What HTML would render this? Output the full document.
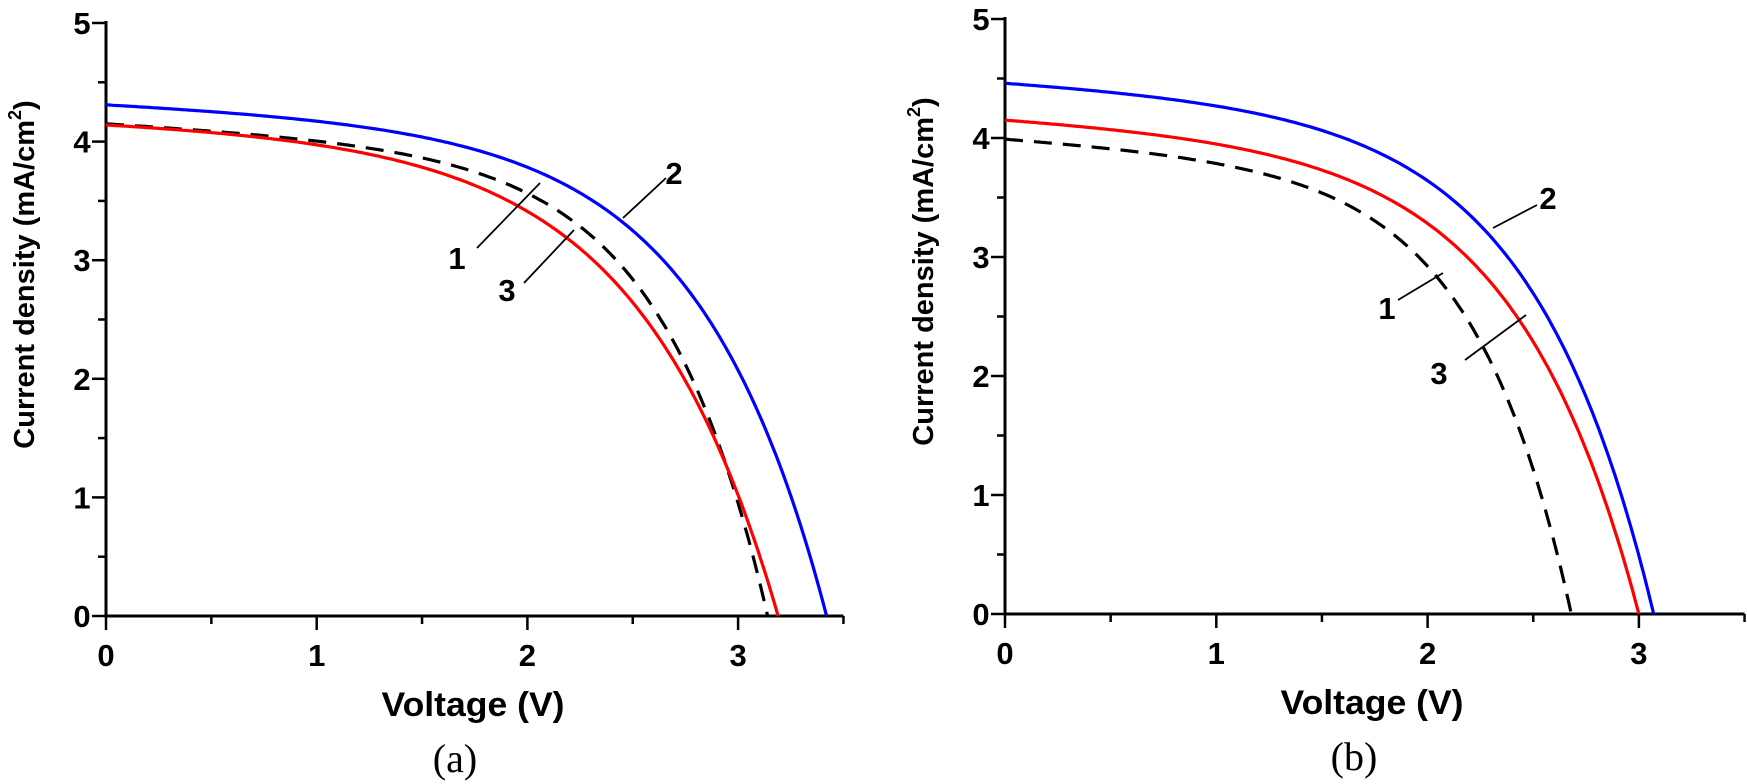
<!DOCTYPE html>
<html><head><meta charset="utf-8"><style>
html,body{margin:0;padding:0;background:#fff;}
svg{display:block;}
.t{font-family:"Liberation Sans",Arial,sans-serif;font-weight:bold;font-size:31px;fill:#000;}
.c{font-family:"Liberation Serif",serif;font-size:40px;fill:#000;}
</style></head><body>
<svg id="s" width="1747" height="784" xmlns="http://www.w3.org/2000/svg"></svg>
<script>
const s=document.getElementById('s');let h='';
function panel(x0,y0,y5,ux,sets,labs,cap){
 const uy=(y0-y5)/5, X=v=>x0+v*ux, Y=j=>y0-j*uy, xe=X(3.5);
 h+=`<line x1="${x0}" y1="${y5-2}" x2="${x0}" y2="${y0+1.5}" stroke="#000" stroke-width="3"/>`;
 h+=`<line x1="${x0-1.5}" y1="${y0}" x2="${xe}" y2="${y0}" stroke="#000" stroke-width="3"/>`;
 for(let k=0;k<=10;k++){const j=k/2,L=k%2?8:14;h+=`<line x1="${x0-L}" y1="${Y(j)}" x2="${x0}" y2="${Y(j)}" stroke="#000" stroke-width="2.5"/>`;
  if(k%2==0)h+=`<text class="t" x="${x0-24}" y="${Y(j)+11}" text-anchor="middle">${j}</text>`;}
 for(let k=0;k<=7;k++){const v=k/2,L=k%2?8:14;h+=`<line x1="${X(v)}" y1="${y0}" x2="${X(v)}" y2="${y0+L}" stroke="#000" stroke-width="2.5"/>`;
  if(k%2==0)h+=`<text class="t" x="${X(v)}" y="${y0+50}" text-anchor="middle">${v}</text>`;}
 h+=`<text class="t" transform="translate(${x0-72},${(y0+y5)/2-45}) rotate(-90)" text-anchor="middle" style="font-size:29px">Current density (mA/cm<tspan dy="-13" style="font-size:18px">2</tspan><tspan dy="13">)</tspan></text>`;
 h+=`<text class="t" x="${x0+367}" y="${y0+100}" text-anchor="middle" style="font-size:34px" textLength="183" lengthAdjust="spacingAndGlyphs">Voltage (V)</text>`;
 h+=`<text class="c" x="${x0+349}" y="${y0+156}" text-anchor="middle">${cap}</text>`;
 for(const st of sets){
  const [J0,sl,b,voc]=st.p;const A=(J0-sl*voc)/(Math.exp(voc/b)-1);
  let d='';for(let i=0;i<=200;i++){const v=voc*i/200;let j=J0-sl*v-A*(Math.exp(v/b)-1);if(i==200)j=0;
   d+=(i?'L':'M')+X(v).toFixed(1)+','+Y(j).toFixed(1);}
  h+=`<path d="${d}" fill="none" stroke="${st.c}" stroke-width="3.2" ${st.dash?'stroke-dasharray="18,11"':''}/>`;}
 for(const l of labs){h+=`<line x1="${l[0]}" y1="${l[1]}" x2="${l[2]}" y2="${l[3]}" stroke="#000" stroke-width="1.8"/>`;
  h+=`<text class="t" x="${l[4]}" y="${l[5]+11}" text-anchor="middle">${l[6]}</text>`;}
}
panel(106,616,23,210.7,[
 {c:'#000',dash:1,p:[4.15,0.1,0.5,3.14]},
 {c:'#f00',p:[4.14,0.06,0.65,3.19]},
 {c:'#00f',p:[4.31,0.08,0.6,3.42]}
],[[477,248,540,183,457,258,'1'],[623,218,666,178,674,173,'2'],[524,283,574,230,507,290,'3']],'(a)');
panel(1005,614,19,211.3,[
 {c:'#000',dash:1,p:[3.99,0.12,0.46,2.68]},
 {c:'#f00',p:[4.15,0.1,0.58,3.0]},
 {c:'#00f',p:[4.46,0.1,0.57,3.07]}
],[[1398,300,1443,273,1387,308,'1'],[1493,228,1537,205,1548,198,'2'],[1465,360,1526,315,1439,373,'3']],'(b)');
s.innerHTML=h;
</script>
</body></html>
